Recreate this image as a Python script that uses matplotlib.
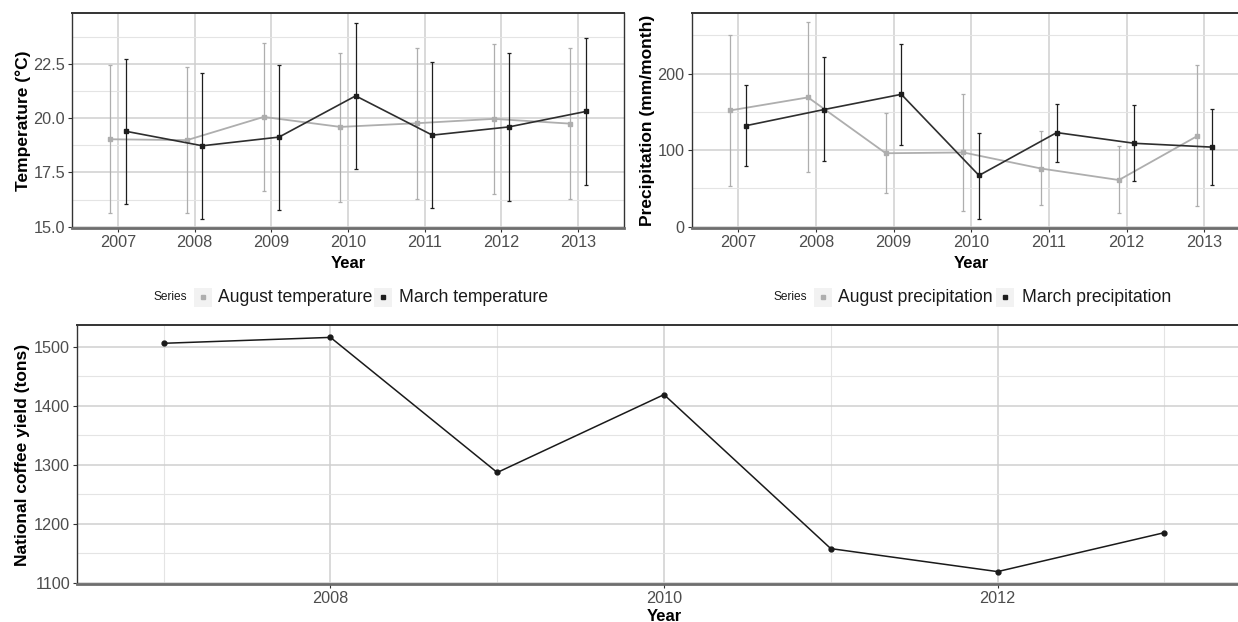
import matplotlib
matplotlib.use("Agg")
import matplotlib.pyplot as plt
from matplotlib.patches import Rectangle
from matplotlib.lines import Line2D
from matplotlib.ticker import MultipleLocator, FormatStrFormatter
import numpy as np

plt.rcParams['font.family'] = ['Liberation Sans', 'DejaVu Sans']

years = [2007, 2008, 2009, 2010, 2011, 2012, 2013]

aug_temp = [19.03, 18.99, 20.06, 19.60, 19.77, 19.97, 19.75]
aug_temp_hi = [22.47, 22.35, 23.47, 23.02, 23.24, 23.42, 23.24]
aug_temp_lo = [15.61, 15.61, 16.64, 16.15, 16.27, 16.53, 16.27]
mar_temp = [19.40, 18.73, 19.13, 21.03, 19.22, 19.60, 20.31]
mar_temp_hi = [22.75, 22.10, 22.47, 24.40, 22.58, 23.02, 23.70]
mar_temp_lo = [16.06, 15.35, 15.78, 17.64, 15.84, 16.17, 16.90]

aug_prec = [152, 169, 96, 97, 76, 61, 118]
aug_prec_hi = [251, 267, 148, 173, 125, 105, 211]
aug_prec_lo = [53, 71, 44, 21, 28, 18, 27]
mar_prec = [132, 153, 173, 67, 123, 109, 104]
mar_prec_hi = [185, 222, 239, 123, 160, 159, 154]
mar_prec_lo = [79, 86, 107, 10, 85, 60, 54]

coffee = [1506, 1516, 1287, 1419, 1158, 1119, 1185]

W, H = 1238, 622
fig = plt.figure(figsize=(W / 100, H / 100), dpi=100)

GRAY_TXT = '#4D4D4D'
AUG_C = '#AEAEAE'
MAR_C = '#1E1E1E'
MAJ_GRID = '#CFCFCF'
MIN_GRID = '#E4E4E4'


def px_axes(l, t, r, b):
    return fig.add_axes([l / W, 1 - b / H, (r - l) / W, (b - t) / H])


def style(ax):
    ax.set_facecolor('white')
    ax.grid(True, which='major', color=MAJ_GRID, lw=1.1, zorder=0)
    ax.grid(True, which='minor', axis='y', color=MIN_GRID, lw=0.8, zorder=0)
    ax.set_axisbelow(True)
    for s in ['top', 'left', 'right']:
        ax.spines[s].set_color('#333333')
        ax.spines[s].set_linewidth(1.0)
    ax.spines['top'].set_linewidth(1.4)
    ax.spines['bottom'].set_color('#6E6E6E')
    ax.spines['bottom'].set_linewidth(2.0)
    ax.tick_params(axis='both', which='major', labelsize=11.7, labelcolor=GRAY_TXT,
                   color='#333333', length=3, width=0.8, pad=2)
    ax.tick_params(axis='both', which='minor', length=0)


def panel(ax, aug, aug_lo, aug_hi, mar, mar_lo, mar_hi, ylab, ylim, maj, minr):
    x = np.arange(len(years))
    xa = x - 0.1
    xm = x + 0.1
    ax.errorbar(xa, aug, yerr=[np.array(aug) - np.array(aug_lo), np.array(aug_hi) - np.array(aug)],
                fmt='none', ecolor=AUG_C, elinewidth=0.9, capsize=1.5, capthick=0.9, zorder=2)
    ax.plot(xa, aug, color=AUG_C, lw=1.3, marker='s', ms=3.5, mfc=AUG_C, mec=AUG_C, zorder=3)
    ax.errorbar(xm, mar, yerr=[np.array(mar) - np.array(mar_lo), np.array(mar_hi) - np.array(mar)],
                fmt='none', ecolor=MAR_C, elinewidth=0.9, capsize=1.5, capthick=0.9, zorder=4)
    ax.plot(xm, mar, color='#2E2E2E', lw=1.2, marker='s', ms=3.5, mfc=MAR_C, mec=MAR_C, zorder=5)
    ax.set_xlim(-0.6, len(years) - 0.4)
    ax.set_xticks(x)
    ax.set_xticklabels([str(y) for y in years])
    ax.set_ylim(*ylim)
    ax.yaxis.set_major_locator(MultipleLocator(maj))
    ax.yaxis.set_minor_locator(MultipleLocator(minr))
    style(ax)
    ax.set_xlabel('Year', fontsize=12, fontweight='bold', labelpad=4)
    ax.set_ylabel(ylab, fontsize=12.5, fontweight='bold', labelpad=2)


ax1 = px_axes(72, 13, 624, 228)
panel(ax1, aug_temp, aug_temp_lo, aug_temp_hi, mar_temp, mar_temp_lo, mar_temp_hi,
      'Temperature (°C)', (14.94, 24.85), 2.5, 1.25)
ax1.yaxis.set_major_formatter(FormatStrFormatter('%.1f'))

ax2 = px_axes(691.5, 13, 1251, 228)
panel(ax2, aug_prec, aug_prec_lo, aug_prec_hi, mar_prec, mar_prec_lo, mar_prec_hi,
      'Precipitation (mm/month)', (-1.7, 279.3), 100, 50)

ax3 = px_axes(77, 325, 1251, 584)
ax3.plot(years, coffee, color='#1A1A1A', lw=1.1, marker='o', ms=3.5, zorder=3)
ax3.set_xlim(2006.48, 2013.52)
ax3.set_ylim(1098, 1537)
ax3.xaxis.set_major_locator(MultipleLocator(2))
ax3.xaxis.set_minor_locator(MultipleLocator(1))
ax3.yaxis.set_major_locator(MultipleLocator(100))
ax3.yaxis.set_minor_locator(MultipleLocator(50))
style(ax3)
ax3.grid(True, which='minor', axis='x', color=MIN_GRID, lw=0.8, zorder=0)
ax3.set_xlabel('Year', fontsize=12, fontweight='bold', labelpad=2)
ax3.set_ylabel('National coffee yield (tons)', fontsize=12.5, fontweight='bold', labelpad=3)


def legend(x_series, box1, text1, box2, text2, lab1, lab2):
    yc = 297.5
    fig.text(x_series / W, 1 - yc / H, 'Series', fontsize=8.6, color='#1A1A1A',
             ha='left', va='center')
    for (bx, col, txtx, lab) in [(box1, AUG_C, text1, lab1), (box2, MAR_C, text2, lab2)]:
        fig.patches.append(Rectangle((bx / W, 1 - 307 / H), 18 / W, 19 / H,
                                     transform=fig.transFigure, facecolor='#F2F2F2',
                                     edgecolor='none'))
        fig.lines.append(Line2D([(bx + 9) / W], [1 - yc / H], transform=fig.transFigure,
                                marker='s', ms=3.5, color=col, lw=0))
        fig.text(txtx / W, 1 - yc / H, lab, fontsize=12.7, color='#1A1A1A',
                 ha='left', va='center')


legend(153, 194, 218, 374, 399, 'August temperature', 'March temperature')
legend(773, 814, 838, 996, 1022, 'August precipitation', 'March precipitation')

fig.savefig('out.png', dpi=100, facecolor='white')
